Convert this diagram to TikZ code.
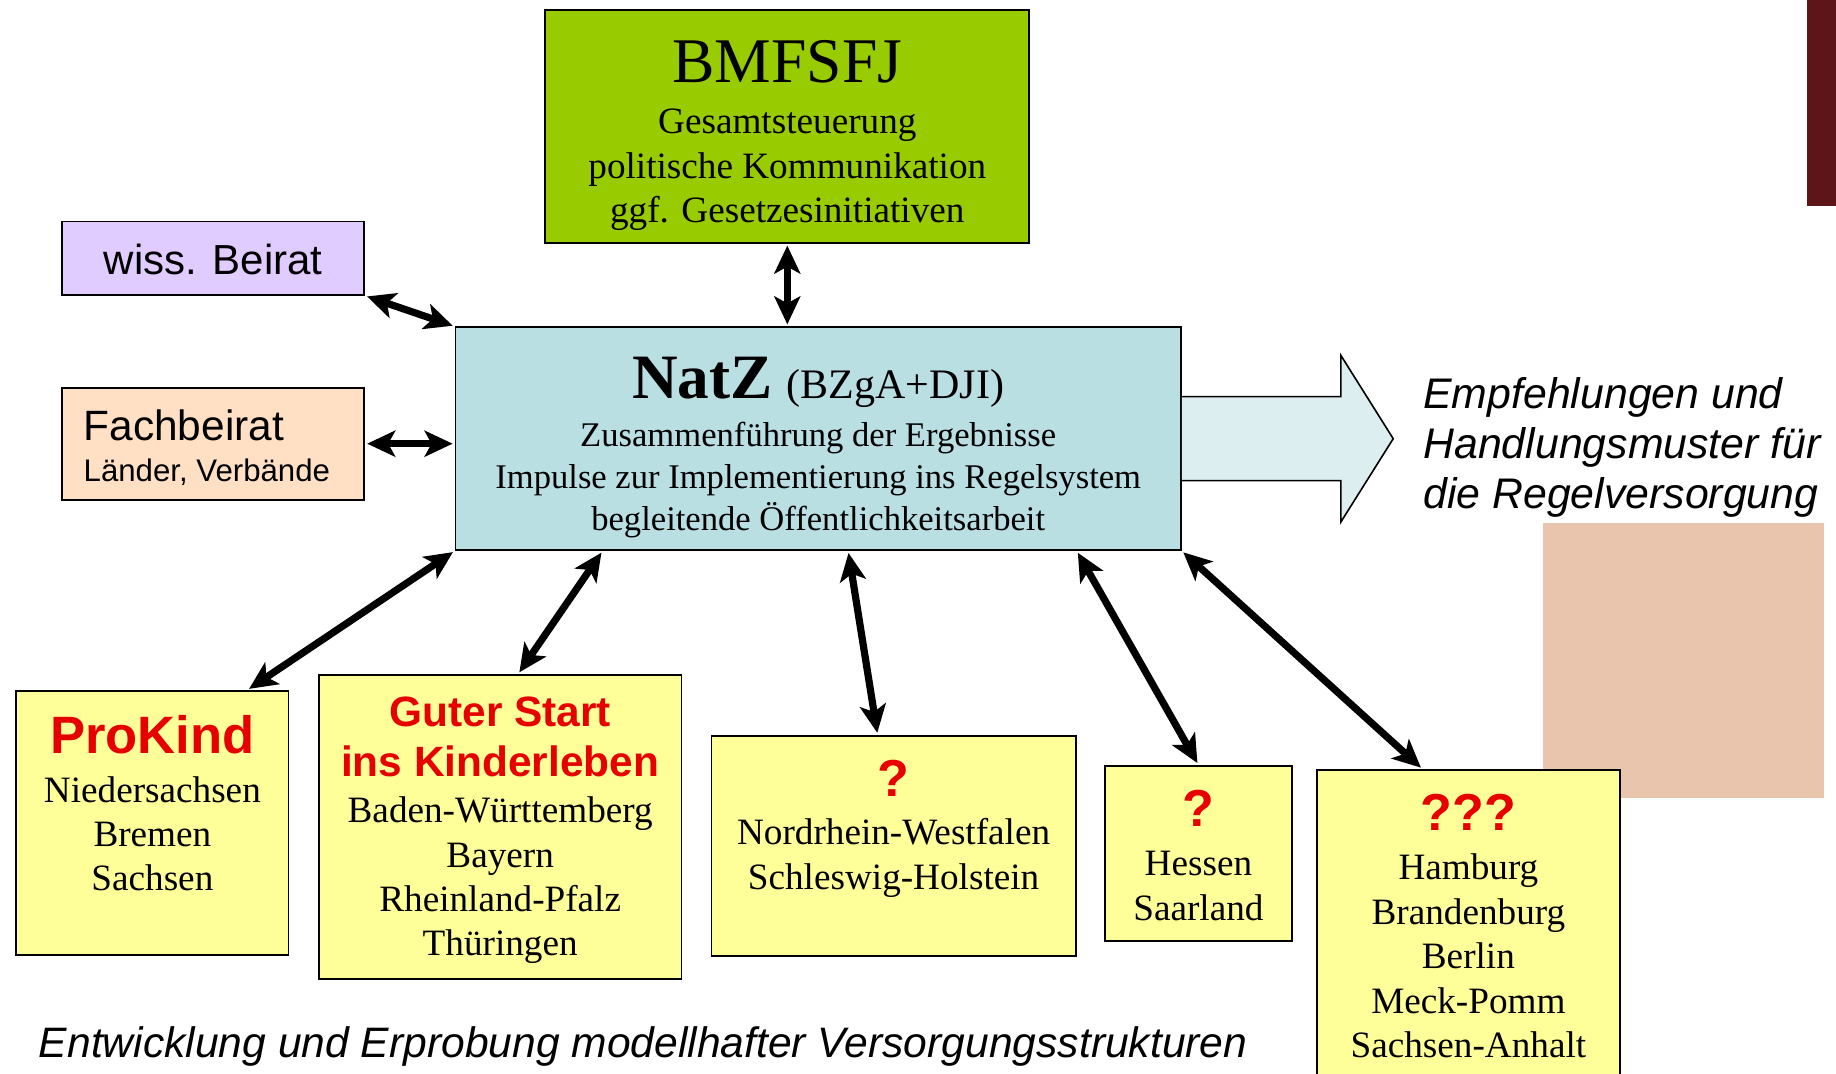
\documentclass[tikz,border=0pt]{standalone}
\usepackage{fontspec}
\setmainfont{Liberation Serif}
\setsansfont{Liberation Sans}
\usetikzlibrary{arrows.meta}

\definecolor{bmgreen}{HTML}{99CC00}
\definecolor{wisslila}{HTML}{E0CCFF}
\definecolor{fachpeach}{HTML}{FFE0C4}
\definecolor{natzblue}{HTML}{B9DFE3}
\definecolor{arrowcyan}{HTML}{DCEEF0}
\definecolor{boxyellow}{HTML}{FFFF99}
\definecolor{textred}{HTML}{E60000}
\definecolor{barred}{HTML}{5E151A}
\definecolor{sidepeach}{HTML}{EAC5AD}

\newcommand{\statefont}{\fontsize{18.6pt}{22.2pt}\selectfont}
\newcommand{\redmark}[1]{{\sffamily\bfseries\fontsize{26pt}{30pt}\selectfont\textcolor{textred}{#1}\par}}

\begin{document}
\begin{tikzpicture}[x=1pt,y=-1pt,
  box/.style={draw=black, line width=0.9pt, inner sep=0pt, anchor=north west},
  link/.style={{Stealth[length=14pt,width=13pt,inset=3.5pt]}-{Stealth[length=14pt,width=13pt,inset=3.5pt]},
    line width=3.6pt, shorten <=1pt, shorten >=1pt},
  bigarrow/.style={fill=arrowcyan, draw=black, line width=0.8pt, line join=miter}]

   \useasboundingbox (0,0) rectangle (918,537);
   \clip (0,0) rectangle (918,537);
   \fill[white] (0,0) rectangle (918,537);

   % side decorations
   \fill[barred] (903.4,0) rectangle (918,103);
   \fill[sidepeach] (771.5,261.6) rectangle (912,398.9);

   % top row
   \node[box, fill=bmgreen] (bmfsfj) at (272.2,4.5) {\parbox[c][116.4pt][t]{242pt}{\centering
      \vspace*{15.2pt}{\fontsize{31.8pt}{34pt}\selectfont BMFSFJ\par}
      \vspace{3.5pt}{\statefont Gesamtsteuerung\\politische Kommunikation\\ggf. Gesetzesinitiativen\par}}};

   \node[box, fill=wisslila] (wiss) at (30.5,110.3) {\parbox[c][36.7pt][t]{151.2pt}{\centering
      \vspace*{11.1pt}{\sffamily\fontsize{21pt}{24pt}\selectfont wiss. Beirat\par}}};

   \node[box, fill=fachpeach] (fach) at (30.5,193.4) {\parbox[c][56pt][t]{151.2pt}{\raggedright\leftskip=10.9pt
      \vspace*{11.2pt}{\sffamily\fontsize{21.2pt}{24pt}\selectfont Fachbeirat\par}
      {\sffamily\fontsize{15.6pt}{20.2pt}\selectfont Länder, Verbände\par}}};

   % centre
   \node[box, fill=natzblue] (natz) at (227.3,163.2) {\parbox[c][111.4pt][t]{362.7pt}{\centering
      \vspace*{15pt}{\fontsize{31.6pt}{34pt}\selectfont\bfseries NatZ}\hspace{7pt}%
      {\fontsize{21pt}{24pt}\selectfont (BZgA+DJI)}\par
      \vspace{3.1pt}{\fontsize{17.3pt}{21pt}\selectfont Zusammenführung der Ergebnisse\\
      Impulse zur Implementierung ins Regelsystem\\begleitende Öffentlichkeitsarbeit\par}}};

   \draw[bigarrow] ([yshift=21pt]natz.east) -- ++(79.5,0) -- ++(0,-20.7) -- ++(26.2,41.7)
      -- ++(-26.2,41.7) -- ++(0,-20.7) -- ++(-79.5,0);

   \node[anchor=base west, inner sep=0pt] (empf) at (711.5,204.4) {\parbox[t]{200pt}{\raggedright
      \sffamily\itshape\fontsize{21.4pt}{25pt}\selectfont
      Empfehlungen und\\Handlungsmuster für\\die Regelversorgung}};

   % bottom row
   \node[box, fill=boxyellow] (prokind) at (7.7,345) {\parbox[c][132pt][t]{136.1pt}{\centering
      \vspace*{12.2pt}{\sffamily\bfseries\fontsize{26.3pt}{30pt}\selectfont\textcolor{textred}{ProKind}\par}
      \vspace{2.1pt}{\statefont Niedersachsen\\Bremen\\Sachsen\par}}};

   \node[box, fill=boxyellow] (guter) at (159,337) {\parbox[c][151.9pt][t]{181.3pt}{\centering
      \vspace*{10.8pt}{\sffamily\bfseries\fontsize{21.2pt}{25pt}\selectfont\textcolor{textred}{Guter Start\\ins Kinderleben}\par}
      \vspace{1.1pt}{\statefont Baden-Württemberg\\Bayern\\Rheinland-Pfalz\\Thüringen\par}}};

   \node[box, fill=boxyellow] (nrw) at (355.3,367.4) {\parbox[c][110.1pt][t]{182.1pt}{\centering
      \vspace*{12.2pt}\redmark{?}
      \vspace{2pt}{\statefont Nordrhein-Westfalen\\Schleswig-Holstein\par}}};

   \node[box, fill=boxyellow] (hessen) at (552,382.4) {\parbox[c][87.7pt][t]{93.5pt}{\centering
      \vspace*{12.2pt}\redmark{?}
      \vspace{2.5pt}{\statefont Hessen\\Saarland\par}}};

   \node[box, fill=boxyellow] (hamburg) at (658,384.5) {\parbox[c][170pt][t]{151.5pt}{\centering
      \vspace*{12.1pt}\redmark{???}
      \vspace{2.5pt}{\statefont Hamburg\\Brandenburg\\Berlin\\Meck-Pomm\\Sachsen-Anhalt\par}}};

   \node[anchor=base west, inner sep=0pt, font=\sffamily\itshape\fontsize{21.3pt}{25pt}\selectfont]
      (caption) at (19.3,528.9) {Entwicklung und Erprobung modellhafter Versorgungsstrukturen};

   % connections
   \draw[link] (wiss.south east) -- (natz.north west);
   \draw[link] (fach.east) -- (fach.east -| natz.west);
   \draw[link] (bmfsfj.south) -- (bmfsfj.south |- natz.north);
   \draw[link] ([xshift=-21pt]prokind.north east) -- (natz.south west);
   \draw[link] ([xshift=9pt]guter.north) -- ([xshift=74pt]natz.south west);
   \draw[link] ([xshift=-8pt]nrw.north) -- ([xshift=15pt]natz.south);
   \draw[link] (hessen.north) -- ([xshift=-52.5pt]natz.south east);
   \draw[link] ([xshift=-23pt]hamburg.north) -- (natz.south east);

\end{tikzpicture}
\end{document}
